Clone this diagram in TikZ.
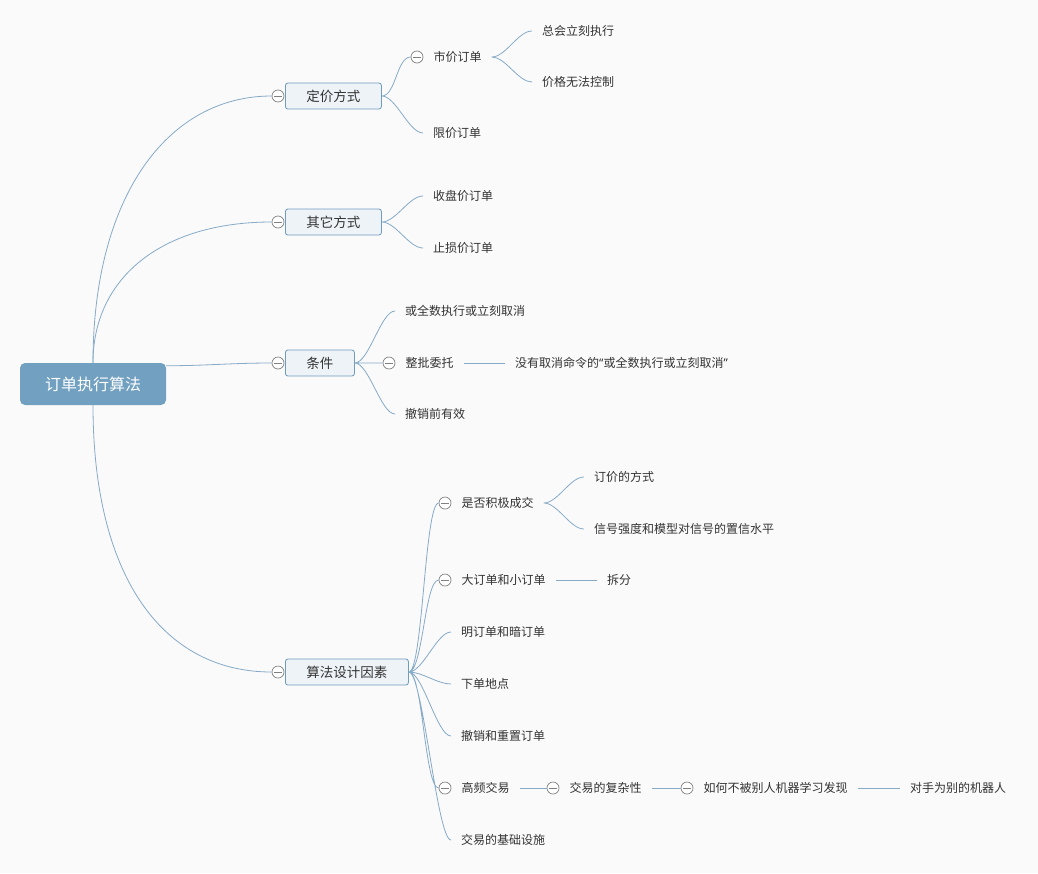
\documentclass[tikz,border=0pt]{standalone}
\usepackage{fontspec}
\setmainfont{Noto Sans CJK SC}
\newfontfamily\quotefont{Noto Sans}
\usetikzlibrary{positioning}

\definecolor{bgcol}{HTML}{FAFAFA}
\definecolor{linecol}{HTML}{86AAC7}
\definecolor{rootcol}{HTML}{72A0C0}
\definecolor{boxcol}{HTML}{EEF3F7}
\definecolor{boxline}{HTML}{6F9BBE}
\definecolor{foldcol}{HTML}{808080}
\definecolor{textcol}{HTML}{333333}

\tikzset{
	topic/.style={rectangle,rounded corners=5pt,fill=rootcol,text=white,inner xsep=25pt,minimum height=42pt,font=\fontsize{16}{18}\selectfont},
	subtopic/.style={rectangle,rounded corners=2.5pt,draw=boxline,fill=boxcol,text=textcol,inner xsep=21pt,minimum height=26pt,anchor=west,line width=0.8pt,font=\fontsize{13.5}{16}\selectfont},
	leaftext/.style={text=textcol,inner xsep=10pt,inner ysep=2pt,anchor=west,font=\fontsize{12}{14}\selectfont},
	foldmark/.style={circle,draw=foldcol,fill=white,minimum size=12pt,inner sep=0pt,line width=0.7pt,
		path picture={\draw[foldcol,line width=0.7pt] ([xshift=-4pt]path picture bounding box.center) -- ([xshift=4pt]path picture bounding box.center);}},
	branch/.style={draw=linecol,line width=0.8pt,to path={.. controls +(14,0) and +(-14,0) .. (\tikztotarget)}}
}

\begin{document}
\begin{tikzpicture}[x=1pt,y=-1pt]
		\fill[bgcol] (0,0) rectangle (1038,873);
		\useasboundingbox (0,0) rectangle (1038,873);

		\path (93,384) coordinate (rootpos);
		\path (278,96) coordinate (pricing);
		\path (278,222) coordinate (other);
		\path (278,363) coordinate (cond);
		\path (278,672) coordinate (design);

		\path (417,57) coordinate (market);
		\path (423,133) coordinate (limit);
		\path (532,31) coordinate (always);
		\path (532,82) coordinate (nocontrol);

		\path (423,196) coordinate (close);
		\path (423,248) coordinate (stop);

		\path (395,311) coordinate (fok);
		\path (389,363) coordinate (aon);
		\path (505,363) coordinate (aon_note);
		\path (395,414) coordinate (gtc);

		\path (445,503) coordinate (aggr);
		\path (584,477) coordinate (aggr_way);
		\path (584,529) coordinate (aggr_sig);
		\path (445,580) coordinate (size);
		\path (597,580) coordinate (size_split);
		\path (451,632) coordinate (dark);
		\path (451,684) coordinate (venue);
		\path (451,736) coordinate (cancel);
		\path (445,788) coordinate (hft);
		\path (553,788) coordinate (hft_cplx);
		\path (687,788) coordinate (hft_hide);
		\path (900,788) coordinate (hft_rival);
		\path (451,840) coordinate (infra);

		% root and main topics
		\node[topic] (root) at (rootpos) {订单执行算法};
		\node[foldmark] (f_pricing) at (pricing) {};
		\node[subtopic] (b_pricing) at ([xshift=7pt]pricing) {定价方式};
		\node[foldmark] (f_other) at (other) {};
		\node[subtopic] (b_other) at ([xshift=7pt]other) {其它方式};
		\node[foldmark] (f_cond) at (cond) {};
		\node[subtopic] (b_cond) at ([xshift=7pt]cond) {条件};
		\node[foldmark] (f_design) at (design) {};
		\node[subtopic] (b_design) at ([xshift=7pt]design) {算法设计因素};

		% pricing
		\node[foldmark] (f_market) at (market) {};
		\node[leaftext,right=0pt of f_market] (t_market) {市价订单};
		\node[leaftext] (t_limit) at (limit) {限价订单};
		\node[leaftext] (t_always) at (always) {总会立刻执行};
		\node[leaftext] (t_nocontrol) at (nocontrol) {价格无法控制};

		% other
		\node[leaftext] (t_close) at (close) {收盘价订单};
		\node[leaftext] (t_stop) at (stop) {止损价订单};

		% conditions
		\node[leaftext] (t_fok) at (fok) {或全数执行或立刻取消};
		\node[foldmark] (f_aon) at (aon) {};
		\node[leaftext,right=0pt of f_aon] (t_aon) {整批委托};
		\node[leaftext] (t_aon_note) at (aon_note) {没有取消命令的{\quotefont “}或全数执行或立刻取消{\quotefont ”}};
		\node[leaftext] (t_gtc) at (gtc) {撤销前有效};

		% design factors
		\node[foldmark] (f_aggr) at (aggr) {};
		\node[leaftext,right=0pt of f_aggr] (t_aggr) {是否积极成交};
		\node[leaftext] (t_aggr_way) at (aggr_way) {订价的方式};
		\node[leaftext] (t_aggr_sig) at (aggr_sig) {信号强度和模型对信号的置信水平};
		\node[foldmark] (f_size) at (size) {};
		\node[leaftext,right=0pt of f_size] (t_size) {大订单和小订单};
		\node[leaftext] (t_size_split) at (size_split) {拆分};
		\node[leaftext] (t_dark) at (dark) {明订单和暗订单};
		\node[leaftext] (t_venue) at (venue) {下单地点};
		\node[leaftext] (t_cancel) at (cancel) {撤销和重置订单};
		\node[foldmark] (f_hft) at (hft) {};
		\node[leaftext,right=0pt of f_hft] (t_hft) {高频交易};
		\node[foldmark] (f_hft_cplx) at (hft_cplx) {};
		\node[leaftext,right=0pt of f_hft_cplx] (t_hft_cplx) {交易的复杂性};
		\node[foldmark] (f_hft_hide) at (hft_hide) {};
		\node[leaftext,right=0pt of f_hft_hide] (t_hft_hide) {如何不被别人机器学习发现};
		\node[leaftext] (t_hft_rival) at (hft_rival) {对手为别的机器人};
		\node[leaftext] (t_infra) at (infra) {交易的基础设施};

		% connectors
		\draw[linecol,line width=0.8pt] (root.north) .. controls +(0,-165) and +(-105,0) .. (f_pricing.west);
		\draw[linecol,line width=0.8pt] (root.north) .. controls +(0,-85) and +(-110,0) .. (f_other.west);
		\draw[branch] (root.14) .. controls +(40,0) and +(-40,0) .. (f_cond.west);
		\draw[linecol,line width=0.8pt] (root.south) .. controls +(0,170) and +(-110,0) .. (f_design.west);

		\draw[branch] (b_pricing.east) to (f_market.west) (b_pricing.east) to (t_limit.west);
		\draw[branch] (t_market.east) to (t_always.west) (t_market.east) to (t_nocontrol.west);
		\draw[branch] (b_other.east) to (t_close.west) (b_other.east) to (t_stop.west);
		\draw[branch] (b_cond.east) to (t_fok.west) (b_cond.east) to (f_aon.west) (b_cond.east) to (t_gtc.west);
		\draw[branch] (t_aon.east) -- (t_aon_note.west);

		\draw[branch] (b_design.east) to (f_aggr.west) (b_design.east) to (f_size.west)
			(b_design.east) to (t_dark.west) (b_design.east) to (t_venue.west)
			(b_design.east) to (t_cancel.west) (b_design.east) to (f_hft.west)
			(b_design.east) to (t_infra.west);
		\draw[branch] (t_aggr.east) to (t_aggr_way.west) (t_aggr.east) to (t_aggr_sig.west);
		\draw[branch] (t_size.east) -- (t_size_split.west);
		\draw[branch] (t_hft.east) -- (f_hft_cplx.west);
		\draw[branch] (t_hft_cplx.east) -- (f_hft_hide.west);
		\draw[branch] (t_hft_hide.east) -- (t_hft_rival.west);
	\end{tikzpicture}
\end{document}
